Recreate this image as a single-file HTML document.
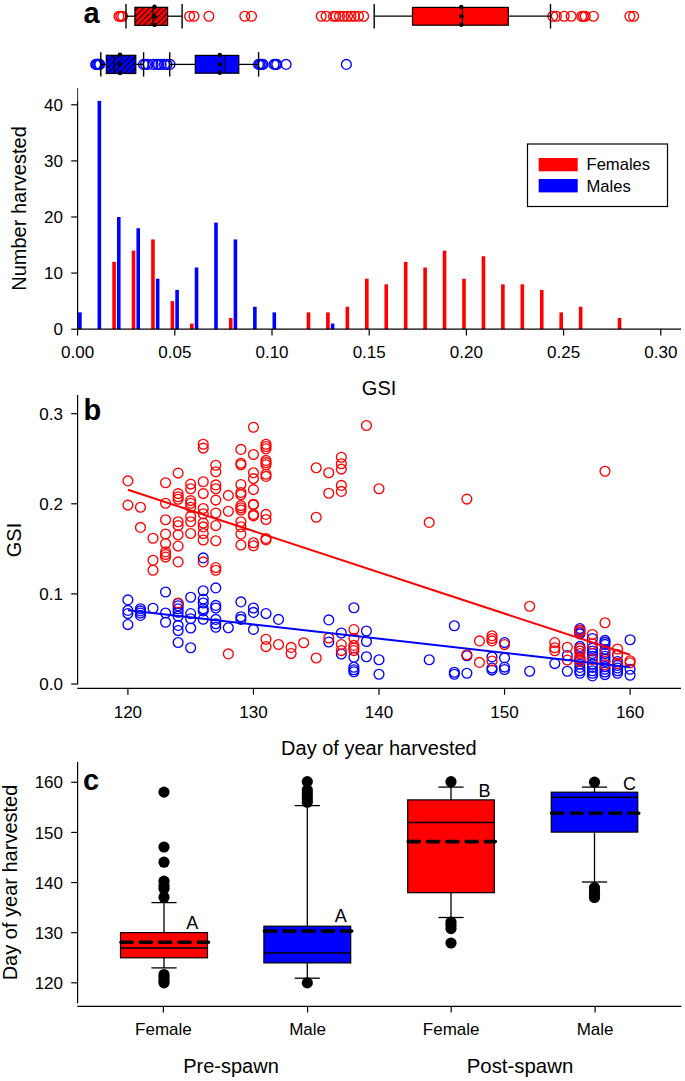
<!DOCTYPE html>
<html><head><meta charset="utf-8"><title>Figure</title>
<style>
html,body{margin:0;padding:0;background:#fff;}
body{width:685px;height:1081px;overflow:hidden;}
svg{display:block;}
text{font-family:"Liberation Sans", sans-serif;fill:#000;}
</style></head>
<body>
<svg width="685" height="1081" viewBox="0 0 685 1081">
<rect width="685" height="1081" fill="#fff"/>
<rect x="112.28" y="261.88" width="3.6" height="67.32" fill="#ff0000"/>
<rect x="131.72" y="250.66" width="3.6" height="78.54" fill="#ff0000"/>
<rect x="151.16" y="239.44" width="3.6" height="89.76" fill="#ff0000"/>
<rect x="170.60" y="301.15" width="3.6" height="28.05" fill="#ff0000"/>
<rect x="190.04" y="323.59" width="3.6" height="5.61" fill="#ff0000"/>
<rect x="228.92" y="317.98" width="3.6" height="11.22" fill="#ff0000"/>
<rect x="306.68" y="312.37" width="3.6" height="16.83" fill="#ff0000"/>
<rect x="326.12" y="312.37" width="3.6" height="16.83" fill="#ff0000"/>
<rect x="345.56" y="306.76" width="3.6" height="22.44" fill="#ff0000"/>
<rect x="365.00" y="278.71" width="3.6" height="50.49" fill="#ff0000"/>
<rect x="384.44" y="284.32" width="3.6" height="44.88" fill="#ff0000"/>
<rect x="403.88" y="261.88" width="3.6" height="67.32" fill="#ff0000"/>
<rect x="423.32" y="267.49" width="3.6" height="61.71" fill="#ff0000"/>
<rect x="442.76" y="250.66" width="3.6" height="78.54" fill="#ff0000"/>
<rect x="462.20" y="278.71" width="3.6" height="50.49" fill="#ff0000"/>
<rect x="481.64" y="256.27" width="3.6" height="72.93" fill="#ff0000"/>
<rect x="501.08" y="284.32" width="3.6" height="44.88" fill="#ff0000"/>
<rect x="520.52" y="284.32" width="3.6" height="44.88" fill="#ff0000"/>
<rect x="539.96" y="289.93" width="3.6" height="39.27" fill="#ff0000"/>
<rect x="559.40" y="312.37" width="3.6" height="16.83" fill="#ff0000"/>
<rect x="578.84" y="306.76" width="3.6" height="22.44" fill="#ff0000"/>
<rect x="617.72" y="317.98" width="3.6" height="11.22" fill="#ff0000"/>
<rect x="78.10" y="312.37" width="3.6" height="16.83" fill="#0000ff"/>
<rect x="97.54" y="100.87" width="3.6" height="228.33" fill="#0000ff"/>
<rect x="116.98" y="217.00" width="3.6" height="112.20" fill="#0000ff"/>
<rect x="136.42" y="228.22" width="3.6" height="100.98" fill="#0000ff"/>
<rect x="155.86" y="278.71" width="3.6" height="50.49" fill="#0000ff"/>
<rect x="175.30" y="289.93" width="3.6" height="39.27" fill="#0000ff"/>
<rect x="194.74" y="267.49" width="3.6" height="61.71" fill="#0000ff"/>
<rect x="214.18" y="222.61" width="3.6" height="106.59" fill="#0000ff"/>
<rect x="233.62" y="239.44" width="3.6" height="89.76" fill="#0000ff"/>
<rect x="253.06" y="306.76" width="3.6" height="22.44" fill="#0000ff"/>
<rect x="272.50" y="312.37" width="3.6" height="16.83" fill="#0000ff"/>
<rect x="330.82" y="323.59" width="3.6" height="5.61" fill="#0000ff"/>
<line x1="77.60" y1="88.00" x2="77.60" y2="101.00" stroke="#000" stroke-width="0.8" />
<line x1="77.60" y1="101.00" x2="77.60" y2="329.70" stroke="#000" stroke-width="1.2" />
<line x1="77.10" y1="329.20" x2="681.00" y2="329.20" stroke="#000" stroke-width="1.2" />
<line x1="77.60" y1="329.20" x2="77.60" y2="335.40" stroke="#000" stroke-width="1.2" />
<text x="77.60" y="358.30" font-size="17" text-anchor="middle" font-weight="normal" >0.00</text>
<line x1="174.80" y1="329.20" x2="174.80" y2="335.40" stroke="#000" stroke-width="1.2" />
<text x="174.80" y="358.30" font-size="17" text-anchor="middle" font-weight="normal" >0.05</text>
<line x1="272.00" y1="329.20" x2="272.00" y2="335.40" stroke="#000" stroke-width="1.2" />
<text x="272.00" y="358.30" font-size="17" text-anchor="middle" font-weight="normal" >0.10</text>
<line x1="369.20" y1="329.20" x2="369.20" y2="335.40" stroke="#000" stroke-width="1.2" />
<text x="369.20" y="358.30" font-size="17" text-anchor="middle" font-weight="normal" >0.15</text>
<line x1="466.40" y1="329.20" x2="466.40" y2="335.40" stroke="#000" stroke-width="1.2" />
<text x="466.40" y="358.30" font-size="17" text-anchor="middle" font-weight="normal" >0.20</text>
<line x1="563.60" y1="329.20" x2="563.60" y2="335.40" stroke="#000" stroke-width="1.2" />
<text x="563.60" y="358.30" font-size="17" text-anchor="middle" font-weight="normal" >0.25</text>
<line x1="660.80" y1="329.20" x2="660.80" y2="335.40" stroke="#000" stroke-width="1.2" />
<text x="660.80" y="358.30" font-size="17" text-anchor="middle" font-weight="normal" >0.30</text>
<line x1="71.20" y1="329.20" x2="77.60" y2="329.20" stroke="#000" stroke-width="1.2" />
<text x="63.00" y="335.30" font-size="17" text-anchor="end" font-weight="normal" >0</text>
<line x1="71.20" y1="273.10" x2="77.60" y2="273.10" stroke="#000" stroke-width="1.2" />
<text x="63.00" y="279.20" font-size="17" text-anchor="end" font-weight="normal" >10</text>
<line x1="71.20" y1="217.00" x2="77.60" y2="217.00" stroke="#000" stroke-width="1.2" />
<text x="63.00" y="223.10" font-size="17" text-anchor="end" font-weight="normal" >20</text>
<line x1="71.20" y1="160.90" x2="77.60" y2="160.90" stroke="#000" stroke-width="1.2" />
<text x="63.00" y="167.00" font-size="17" text-anchor="end" font-weight="normal" >30</text>
<line x1="71.20" y1="104.80" x2="77.60" y2="104.80" stroke="#000" stroke-width="1.2" />
<text x="63.00" y="110.90" font-size="17" text-anchor="end" font-weight="normal" >40</text>
<text x="379.10" y="394.70" font-size="20" text-anchor="middle" font-weight="normal" >GSI</text>
<text transform="translate(26.2,208.5) rotate(-90)" x="0" y="0" font-size="20" text-anchor="middle">Number harvested</text>
<rect x="527.5" y="144" width="140" height="62.5" fill="#fff" stroke="#000" stroke-width="1.2"/>
<rect x="538.7" y="158" width="39" height="13.3" fill="#ff0000"/>
<rect x="538.7" y="179" width="39" height="13.4" fill="#0000ff"/>
<text x="586.50" y="170.30" font-size="16.6" text-anchor="start" font-weight="normal" >Females</text>
<text x="586.50" y="192.30" font-size="16.6" text-anchor="start" font-weight="normal" >Males</text>
<text x="83.40" y="23.40" font-size="29" text-anchor="start" font-weight="bold" >a</text>
<defs><pattern id="hR" patternUnits="userSpaceOnUse" width="4.1" height="4.1" patternTransform="rotate(45)"><rect width="4.1" height="4.1" fill="#ff0000"/><rect x="0" y="0" width="1.0" height="4.1" fill="#000"/></pattern><pattern id="hB" patternUnits="userSpaceOnUse" width="4.1" height="4.1" patternTransform="rotate(45)"><rect width="4.1" height="4.1" fill="#0000ff"/><rect x="0" y="0" width="1.0" height="4.1" fill="#000"/></pattern></defs>
<circle cx="119.00" cy="16.20" r="4.9" fill="none" stroke="#ff0000" stroke-width="1.35"/>
<circle cx="120.80" cy="16.20" r="4.9" fill="none" stroke="#ff0000" stroke-width="1.35"/>
<circle cx="122.60" cy="16.20" r="4.9" fill="none" stroke="#ff0000" stroke-width="1.35"/>
<circle cx="189.60" cy="16.20" r="4.9" fill="none" stroke="#ff0000" stroke-width="1.35"/>
<circle cx="194.00" cy="16.20" r="4.9" fill="none" stroke="#ff0000" stroke-width="1.35"/>
<circle cx="208.90" cy="16.20" r="4.9" fill="none" stroke="#ff0000" stroke-width="1.35"/>
<circle cx="244.80" cy="16.20" r="4.9" fill="none" stroke="#ff0000" stroke-width="1.35"/>
<circle cx="251.50" cy="16.20" r="4.9" fill="none" stroke="#ff0000" stroke-width="1.35"/>
<circle cx="321.20" cy="16.20" r="4.9" fill="none" stroke="#ff0000" stroke-width="1.35"/>
<circle cx="326.10" cy="16.20" r="4.9" fill="none" stroke="#ff0000" stroke-width="1.35"/>
<circle cx="333.50" cy="16.20" r="4.9" fill="none" stroke="#ff0000" stroke-width="1.35"/>
<circle cx="336.00" cy="16.20" r="4.9" fill="none" stroke="#ff0000" stroke-width="1.35"/>
<circle cx="339.50" cy="16.20" r="4.9" fill="none" stroke="#ff0000" stroke-width="1.35"/>
<circle cx="343.50" cy="16.20" r="4.9" fill="none" stroke="#ff0000" stroke-width="1.35"/>
<circle cx="347.50" cy="16.20" r="4.9" fill="none" stroke="#ff0000" stroke-width="1.35"/>
<circle cx="351.00" cy="16.20" r="4.9" fill="none" stroke="#ff0000" stroke-width="1.35"/>
<circle cx="354.50" cy="16.20" r="4.9" fill="none" stroke="#ff0000" stroke-width="1.35"/>
<circle cx="358.50" cy="16.20" r="4.9" fill="none" stroke="#ff0000" stroke-width="1.35"/>
<circle cx="363.60" cy="16.20" r="4.9" fill="none" stroke="#ff0000" stroke-width="1.35"/>
<circle cx="552.80" cy="16.20" r="4.9" fill="none" stroke="#ff0000" stroke-width="1.35"/>
<circle cx="556.30" cy="16.20" r="4.9" fill="none" stroke="#ff0000" stroke-width="1.35"/>
<circle cx="564.20" cy="16.20" r="4.9" fill="none" stroke="#ff0000" stroke-width="1.35"/>
<circle cx="571.20" cy="16.20" r="4.9" fill="none" stroke="#ff0000" stroke-width="1.35"/>
<circle cx="581.70" cy="16.20" r="4.9" fill="none" stroke="#ff0000" stroke-width="1.35"/>
<circle cx="583.40" cy="16.20" r="4.9" fill="none" stroke="#ff0000" stroke-width="1.35"/>
<circle cx="585.20" cy="16.20" r="4.9" fill="none" stroke="#ff0000" stroke-width="1.35"/>
<circle cx="593.40" cy="16.20" r="4.9" fill="none" stroke="#ff0000" stroke-width="1.35"/>
<circle cx="629.90" cy="16.20" r="4.9" fill="none" stroke="#ff0000" stroke-width="1.35"/>
<circle cx="633.60" cy="16.20" r="4.9" fill="none" stroke="#ff0000" stroke-width="1.35"/>
<line x1="126.00" y1="16.20" x2="134.90" y2="16.20" stroke="#000" stroke-width="1.3" />
<line x1="167.60" y1="16.20" x2="182.10" y2="16.20" stroke="#000" stroke-width="1.3" />
<line x1="126.00" y1="3.90" x2="126.00" y2="28.50" stroke="#000" stroke-width="1.4" />
<line x1="182.10" y1="3.90" x2="182.10" y2="28.50" stroke="#000" stroke-width="1.4" />
<rect x="134.90" y="7.30" width="32.70" height="18.10" fill="url(#hR)" stroke="#000" stroke-width="1.2"/>
<line x1="152.90" y1="7.30" x2="152.90" y2="25.40" stroke="#000" stroke-width="1.2" />
<circle cx="154.50" cy="6.80" r="2.2" fill="#000"/>
<circle cx="154.50" cy="16.20" r="2.2" fill="#000"/>
<circle cx="154.50" cy="24.90" r="2.2" fill="#000"/>
<line x1="374.20" y1="16.20" x2="412.50" y2="16.20" stroke="#000" stroke-width="1.3" />
<line x1="508.30" y1="16.20" x2="550.50" y2="16.20" stroke="#000" stroke-width="1.3" />
<line x1="374.20" y1="3.90" x2="374.20" y2="28.50" stroke="#000" stroke-width="1.4" />
<line x1="550.50" y1="3.90" x2="550.50" y2="28.50" stroke="#000" stroke-width="1.4" />
<rect x="412.50" y="7.40" width="95.80" height="17.80" fill="#ff0000" stroke="#000" stroke-width="1.2"/>
<line x1="462.50" y1="7.40" x2="462.50" y2="25.20" stroke="#000" stroke-width="1.2" />
<circle cx="461.30" cy="6.90" r="2.2" fill="#000"/>
<circle cx="461.30" cy="16.20" r="2.2" fill="#000"/>
<circle cx="461.30" cy="24.70" r="2.2" fill="#000"/>
<circle cx="95.70" cy="64.40" r="4.9" fill="none" stroke="#0000ff" stroke-width="1.35"/>
<circle cx="96.70" cy="64.40" r="4.9" fill="none" stroke="#0000ff" stroke-width="1.35"/>
<circle cx="97.70" cy="64.40" r="4.9" fill="none" stroke="#0000ff" stroke-width="1.35"/>
<circle cx="98.80" cy="64.40" r="4.9" fill="none" stroke="#0000ff" stroke-width="1.35"/>
<circle cx="99.80" cy="64.40" r="4.9" fill="none" stroke="#0000ff" stroke-width="1.35"/>
<circle cx="143.50" cy="64.40" r="4.9" fill="none" stroke="#0000ff" stroke-width="1.35"/>
<circle cx="145.50" cy="64.40" r="4.9" fill="none" stroke="#0000ff" stroke-width="1.35"/>
<circle cx="148.00" cy="64.40" r="4.9" fill="none" stroke="#0000ff" stroke-width="1.35"/>
<circle cx="153.00" cy="64.40" r="4.9" fill="none" stroke="#0000ff" stroke-width="1.35"/>
<circle cx="156.50" cy="64.40" r="4.9" fill="none" stroke="#0000ff" stroke-width="1.35"/>
<circle cx="158.50" cy="64.40" r="4.9" fill="none" stroke="#0000ff" stroke-width="1.35"/>
<circle cx="161.00" cy="64.40" r="4.9" fill="none" stroke="#0000ff" stroke-width="1.35"/>
<circle cx="164.50" cy="64.40" r="4.9" fill="none" stroke="#0000ff" stroke-width="1.35"/>
<circle cx="167.00" cy="64.40" r="4.9" fill="none" stroke="#0000ff" stroke-width="1.35"/>
<circle cx="170.00" cy="64.40" r="4.9" fill="none" stroke="#0000ff" stroke-width="1.35"/>
<circle cx="258.50" cy="64.40" r="4.9" fill="none" stroke="#0000ff" stroke-width="1.35"/>
<circle cx="260.00" cy="64.40" r="4.9" fill="none" stroke="#0000ff" stroke-width="1.35"/>
<circle cx="261.50" cy="64.40" r="4.9" fill="none" stroke="#0000ff" stroke-width="1.35"/>
<circle cx="263.00" cy="64.40" r="4.9" fill="none" stroke="#0000ff" stroke-width="1.35"/>
<circle cx="274.00" cy="64.40" r="4.9" fill="none" stroke="#0000ff" stroke-width="1.35"/>
<circle cx="275.50" cy="64.40" r="4.9" fill="none" stroke="#0000ff" stroke-width="1.35"/>
<circle cx="276.80" cy="64.40" r="4.9" fill="none" stroke="#0000ff" stroke-width="1.35"/>
<circle cx="286.10" cy="64.40" r="4.9" fill="none" stroke="#0000ff" stroke-width="1.35"/>
<circle cx="346.40" cy="64.40" r="4.9" fill="none" stroke="#0000ff" stroke-width="1.35"/>
<line x1="100.80" y1="64.40" x2="106.30" y2="64.40" stroke="#000" stroke-width="1.3" />
<line x1="135.80" y1="64.40" x2="143.60" y2="64.40" stroke="#000" stroke-width="1.3" />
<line x1="100.80" y1="52.20" x2="100.80" y2="76.60" stroke="#000" stroke-width="1.4" />
<line x1="143.60" y1="52.20" x2="143.60" y2="76.60" stroke="#000" stroke-width="1.4" />
<rect x="106.30" y="55.30" width="29.50" height="18.20" fill="url(#hB)" stroke="#000" stroke-width="1.2"/>
<line x1="114.10" y1="55.30" x2="114.10" y2="73.50" stroke="#000" stroke-width="1.2" />
<circle cx="120.00" cy="54.80" r="2.2" fill="#000"/>
<circle cx="120.00" cy="64.40" r="2.2" fill="#000"/>
<circle cx="120.00" cy="73.00" r="2.2" fill="#000"/>
<line x1="169.70" y1="64.40" x2="195.30" y2="64.40" stroke="#000" stroke-width="1.3" />
<line x1="238.80" y1="64.40" x2="258.60" y2="64.40" stroke="#000" stroke-width="1.3" />
<line x1="169.70" y1="52.20" x2="169.70" y2="76.60" stroke="#000" stroke-width="1.4" />
<line x1="258.60" y1="52.20" x2="258.60" y2="76.60" stroke="#000" stroke-width="1.4" />
<rect x="195.30" y="55.40" width="43.50" height="17.80" fill="#0000ff" stroke="#000" stroke-width="1.2"/>
<line x1="224.50" y1="55.40" x2="224.50" y2="73.20" stroke="#000" stroke-width="1.2" />
<circle cx="219.80" cy="54.90" r="2.2" fill="#000"/>
<circle cx="219.80" cy="64.40" r="2.2" fill="#000"/>
<circle cx="219.80" cy="72.70" r="2.2" fill="#000"/>
<line x1="77.60" y1="395.00" x2="77.60" y2="684.50" stroke="#000" stroke-width="1.2" />
<line x1="71.20" y1="684.00" x2="77.60" y2="684.00" stroke="#000" stroke-width="1.2" />
<text x="63.00" y="690.10" font-size="17" text-anchor="end" font-weight="normal" >0.0</text>
<line x1="71.20" y1="593.90" x2="77.60" y2="593.90" stroke="#000" stroke-width="1.2" />
<text x="63.00" y="600.00" font-size="17" text-anchor="end" font-weight="normal" >0.1</text>
<line x1="71.20" y1="503.80" x2="77.60" y2="503.80" stroke="#000" stroke-width="1.2" />
<text x="63.00" y="509.90" font-size="17" text-anchor="end" font-weight="normal" >0.2</text>
<line x1="71.20" y1="413.70" x2="77.60" y2="413.70" stroke="#000" stroke-width="1.2" />
<text x="63.00" y="419.80" font-size="17" text-anchor="end" font-weight="normal" >0.3</text>
<line x1="77.30" y1="688.30" x2="681.00" y2="688.30" stroke="#000" stroke-width="1.2" />
<line x1="127.90" y1="688.30" x2="127.90" y2="694.70" stroke="#000" stroke-width="1.2" />
<text x="127.90" y="717.90" font-size="17" text-anchor="middle" font-weight="normal" >120</text>
<line x1="253.45" y1="688.30" x2="253.45" y2="694.70" stroke="#000" stroke-width="1.2" />
<text x="253.45" y="717.90" font-size="17" text-anchor="middle" font-weight="normal" >130</text>
<line x1="379.00" y1="688.30" x2="379.00" y2="694.70" stroke="#000" stroke-width="1.2" />
<text x="379.00" y="717.90" font-size="17" text-anchor="middle" font-weight="normal" >140</text>
<line x1="504.55" y1="688.30" x2="504.55" y2="694.70" stroke="#000" stroke-width="1.2" />
<text x="504.55" y="717.90" font-size="17" text-anchor="middle" font-weight="normal" >150</text>
<line x1="630.10" y1="688.30" x2="630.10" y2="694.70" stroke="#000" stroke-width="1.2" />
<text x="630.10" y="717.90" font-size="17" text-anchor="middle" font-weight="normal" >160</text>
<text x="378.90" y="754.70" font-size="20" text-anchor="middle" font-weight="normal" >Day of year harvested</text>
<text transform="translate(21.4,540) rotate(-90)" x="0" y="0" font-size="20" text-anchor="middle">GSI</text>
<text x="83.50" y="420.40" font-size="29" text-anchor="start" font-weight="bold" >b</text>
<circle cx="127.90" cy="599.90" r="4.9" fill="none" stroke="#0000ff" stroke-width="1.35"/>
<circle cx="127.90" cy="610.40" r="4.9" fill="none" stroke="#0000ff" stroke-width="1.35"/>
<circle cx="127.90" cy="613.60" r="4.9" fill="none" stroke="#0000ff" stroke-width="1.35"/>
<circle cx="127.90" cy="624.60" r="4.9" fill="none" stroke="#0000ff" stroke-width="1.35"/>
<circle cx="140.46" cy="608.80" r="4.9" fill="none" stroke="#0000ff" stroke-width="1.35"/>
<circle cx="140.46" cy="610.90" r="4.9" fill="none" stroke="#0000ff" stroke-width="1.35"/>
<circle cx="140.46" cy="613.00" r="4.9" fill="none" stroke="#0000ff" stroke-width="1.35"/>
<circle cx="140.46" cy="615.40" r="4.9" fill="none" stroke="#0000ff" stroke-width="1.35"/>
<circle cx="153.01" cy="608.30" r="4.9" fill="none" stroke="#0000ff" stroke-width="1.35"/>
<circle cx="165.56" cy="592.00" r="4.9" fill="none" stroke="#0000ff" stroke-width="1.35"/>
<circle cx="165.56" cy="613.00" r="4.9" fill="none" stroke="#0000ff" stroke-width="1.35"/>
<circle cx="165.56" cy="622.20" r="4.9" fill="none" stroke="#0000ff" stroke-width="1.35"/>
<circle cx="178.12" cy="603.60" r="4.9" fill="none" stroke="#0000ff" stroke-width="1.35"/>
<circle cx="178.12" cy="605.70" r="4.9" fill="none" stroke="#0000ff" stroke-width="1.35"/>
<circle cx="178.12" cy="608.80" r="4.9" fill="none" stroke="#0000ff" stroke-width="1.35"/>
<circle cx="178.12" cy="612.30" r="4.9" fill="none" stroke="#0000ff" stroke-width="1.35"/>
<circle cx="178.12" cy="616.20" r="4.9" fill="none" stroke="#0000ff" stroke-width="1.35"/>
<circle cx="178.12" cy="625.40" r="4.9" fill="none" stroke="#0000ff" stroke-width="1.35"/>
<circle cx="178.12" cy="630.60" r="4.9" fill="none" stroke="#0000ff" stroke-width="1.35"/>
<circle cx="178.12" cy="642.50" r="4.9" fill="none" stroke="#0000ff" stroke-width="1.35"/>
<circle cx="190.68" cy="597.30" r="4.9" fill="none" stroke="#0000ff" stroke-width="1.35"/>
<circle cx="190.68" cy="613.60" r="4.9" fill="none" stroke="#0000ff" stroke-width="1.35"/>
<circle cx="190.68" cy="618.80" r="4.9" fill="none" stroke="#0000ff" stroke-width="1.35"/>
<circle cx="190.68" cy="628.00" r="4.9" fill="none" stroke="#0000ff" stroke-width="1.35"/>
<circle cx="190.68" cy="647.70" r="4.9" fill="none" stroke="#0000ff" stroke-width="1.35"/>
<circle cx="203.23" cy="557.90" r="4.9" fill="none" stroke="#0000ff" stroke-width="1.35"/>
<circle cx="203.23" cy="590.70" r="4.9" fill="none" stroke="#0000ff" stroke-width="1.35"/>
<circle cx="203.23" cy="599.10" r="4.9" fill="none" stroke="#0000ff" stroke-width="1.35"/>
<circle cx="203.23" cy="603.00" r="4.9" fill="none" stroke="#0000ff" stroke-width="1.35"/>
<circle cx="203.23" cy="608.80" r="4.9" fill="none" stroke="#0000ff" stroke-width="1.35"/>
<circle cx="203.23" cy="610.90" r="4.9" fill="none" stroke="#0000ff" stroke-width="1.35"/>
<circle cx="203.23" cy="619.30" r="4.9" fill="none" stroke="#0000ff" stroke-width="1.35"/>
<circle cx="215.78" cy="587.90" r="4.9" fill="none" stroke="#0000ff" stroke-width="1.35"/>
<circle cx="215.78" cy="605.40" r="4.9" fill="none" stroke="#0000ff" stroke-width="1.35"/>
<circle cx="215.78" cy="608.00" r="4.9" fill="none" stroke="#0000ff" stroke-width="1.35"/>
<circle cx="215.78" cy="619.40" r="4.9" fill="none" stroke="#0000ff" stroke-width="1.35"/>
<circle cx="215.78" cy="623.80" r="4.9" fill="none" stroke="#0000ff" stroke-width="1.35"/>
<circle cx="215.78" cy="627.30" r="4.9" fill="none" stroke="#0000ff" stroke-width="1.35"/>
<circle cx="228.34" cy="627.70" r="4.9" fill="none" stroke="#0000ff" stroke-width="1.35"/>
<circle cx="240.90" cy="601.90" r="4.9" fill="none" stroke="#0000ff" stroke-width="1.35"/>
<circle cx="240.90" cy="616.80" r="4.9" fill="none" stroke="#0000ff" stroke-width="1.35"/>
<circle cx="240.90" cy="619.40" r="4.9" fill="none" stroke="#0000ff" stroke-width="1.35"/>
<circle cx="253.45" cy="608.00" r="4.9" fill="none" stroke="#0000ff" stroke-width="1.35"/>
<circle cx="253.45" cy="612.40" r="4.9" fill="none" stroke="#0000ff" stroke-width="1.35"/>
<circle cx="253.45" cy="629.40" r="4.9" fill="none" stroke="#0000ff" stroke-width="1.35"/>
<circle cx="266.00" cy="613.60" r="4.9" fill="none" stroke="#0000ff" stroke-width="1.35"/>
<circle cx="278.56" cy="619.40" r="4.9" fill="none" stroke="#0000ff" stroke-width="1.35"/>
<circle cx="328.78" cy="619.90" r="4.9" fill="none" stroke="#0000ff" stroke-width="1.35"/>
<circle cx="328.78" cy="642.00" r="4.9" fill="none" stroke="#0000ff" stroke-width="1.35"/>
<circle cx="341.34" cy="633.00" r="4.9" fill="none" stroke="#0000ff" stroke-width="1.35"/>
<circle cx="341.34" cy="654.00" r="4.9" fill="none" stroke="#0000ff" stroke-width="1.35"/>
<circle cx="353.89" cy="607.80" r="4.9" fill="none" stroke="#0000ff" stroke-width="1.35"/>
<circle cx="353.89" cy="657.20" r="4.9" fill="none" stroke="#0000ff" stroke-width="1.35"/>
<circle cx="353.89" cy="667.20" r="4.9" fill="none" stroke="#0000ff" stroke-width="1.35"/>
<circle cx="353.89" cy="669.80" r="4.9" fill="none" stroke="#0000ff" stroke-width="1.35"/>
<circle cx="353.89" cy="671.70" r="4.9" fill="none" stroke="#0000ff" stroke-width="1.35"/>
<circle cx="366.44" cy="631.00" r="4.9" fill="none" stroke="#0000ff" stroke-width="1.35"/>
<circle cx="366.44" cy="641.50" r="4.9" fill="none" stroke="#0000ff" stroke-width="1.35"/>
<circle cx="366.44" cy="656.70" r="4.9" fill="none" stroke="#0000ff" stroke-width="1.35"/>
<circle cx="379.00" cy="659.80" r="4.9" fill="none" stroke="#0000ff" stroke-width="1.35"/>
<circle cx="379.00" cy="674.30" r="4.9" fill="none" stroke="#0000ff" stroke-width="1.35"/>
<circle cx="429.22" cy="659.80" r="4.9" fill="none" stroke="#0000ff" stroke-width="1.35"/>
<circle cx="454.33" cy="625.70" r="4.9" fill="none" stroke="#0000ff" stroke-width="1.35"/>
<circle cx="454.33" cy="672.20" r="4.9" fill="none" stroke="#0000ff" stroke-width="1.35"/>
<circle cx="454.33" cy="674.20" r="4.9" fill="none" stroke="#0000ff" stroke-width="1.35"/>
<circle cx="466.88" cy="655.80" r="4.9" fill="none" stroke="#0000ff" stroke-width="1.35"/>
<circle cx="466.88" cy="673.20" r="4.9" fill="none" stroke="#0000ff" stroke-width="1.35"/>
<circle cx="492.00" cy="656.90" r="4.9" fill="none" stroke="#0000ff" stroke-width="1.35"/>
<circle cx="492.00" cy="668.10" r="4.9" fill="none" stroke="#0000ff" stroke-width="1.35"/>
<circle cx="492.00" cy="670.10" r="4.9" fill="none" stroke="#0000ff" stroke-width="1.35"/>
<circle cx="504.55" cy="642.60" r="4.9" fill="none" stroke="#0000ff" stroke-width="1.35"/>
<circle cx="504.55" cy="657.90" r="4.9" fill="none" stroke="#0000ff" stroke-width="1.35"/>
<circle cx="504.55" cy="667.10" r="4.9" fill="none" stroke="#0000ff" stroke-width="1.35"/>
<circle cx="504.55" cy="669.50" r="4.9" fill="none" stroke="#0000ff" stroke-width="1.35"/>
<circle cx="529.66" cy="671.20" r="4.9" fill="none" stroke="#0000ff" stroke-width="1.35"/>
<circle cx="554.77" cy="663.60" r="4.9" fill="none" stroke="#0000ff" stroke-width="1.35"/>
<circle cx="567.33" cy="655.50" r="4.9" fill="none" stroke="#0000ff" stroke-width="1.35"/>
<circle cx="567.33" cy="671.30" r="4.9" fill="none" stroke="#0000ff" stroke-width="1.35"/>
<circle cx="579.88" cy="628.60" r="4.9" fill="none" stroke="#0000ff" stroke-width="1.35"/>
<circle cx="579.88" cy="630.60" r="4.9" fill="none" stroke="#0000ff" stroke-width="1.35"/>
<circle cx="579.88" cy="632.60" r="4.9" fill="none" stroke="#0000ff" stroke-width="1.35"/>
<circle cx="579.88" cy="633.90" r="4.9" fill="none" stroke="#0000ff" stroke-width="1.35"/>
<circle cx="579.88" cy="646.40" r="4.9" fill="none" stroke="#0000ff" stroke-width="1.35"/>
<circle cx="579.88" cy="648.30" r="4.9" fill="none" stroke="#0000ff" stroke-width="1.35"/>
<circle cx="579.88" cy="651.00" r="4.9" fill="none" stroke="#0000ff" stroke-width="1.35"/>
<circle cx="579.88" cy="657.50" r="4.9" fill="none" stroke="#0000ff" stroke-width="1.35"/>
<circle cx="579.88" cy="660.10" r="4.9" fill="none" stroke="#0000ff" stroke-width="1.35"/>
<circle cx="579.88" cy="664.10" r="4.9" fill="none" stroke="#0000ff" stroke-width="1.35"/>
<circle cx="579.88" cy="667.40" r="4.9" fill="none" stroke="#0000ff" stroke-width="1.35"/>
<circle cx="579.88" cy="670.70" r="4.9" fill="none" stroke="#0000ff" stroke-width="1.35"/>
<circle cx="579.88" cy="673.30" r="4.9" fill="none" stroke="#0000ff" stroke-width="1.35"/>
<circle cx="592.43" cy="638.50" r="4.9" fill="none" stroke="#0000ff" stroke-width="1.35"/>
<circle cx="592.43" cy="648.30" r="4.9" fill="none" stroke="#0000ff" stroke-width="1.35"/>
<circle cx="592.43" cy="651.00" r="4.9" fill="none" stroke="#0000ff" stroke-width="1.35"/>
<circle cx="592.43" cy="653.60" r="4.9" fill="none" stroke="#0000ff" stroke-width="1.35"/>
<circle cx="592.43" cy="656.20" r="4.9" fill="none" stroke="#0000ff" stroke-width="1.35"/>
<circle cx="592.43" cy="658.80" r="4.9" fill="none" stroke="#0000ff" stroke-width="1.35"/>
<circle cx="592.43" cy="664.10" r="4.9" fill="none" stroke="#0000ff" stroke-width="1.35"/>
<circle cx="592.43" cy="667.40" r="4.9" fill="none" stroke="#0000ff" stroke-width="1.35"/>
<circle cx="592.43" cy="670.70" r="4.9" fill="none" stroke="#0000ff" stroke-width="1.35"/>
<circle cx="592.43" cy="673.30" r="4.9" fill="none" stroke="#0000ff" stroke-width="1.35"/>
<circle cx="592.43" cy="675.90" r="4.9" fill="none" stroke="#0000ff" stroke-width="1.35"/>
<circle cx="604.99" cy="640.40" r="4.9" fill="none" stroke="#0000ff" stroke-width="1.35"/>
<circle cx="604.99" cy="642.40" r="4.9" fill="none" stroke="#0000ff" stroke-width="1.35"/>
<circle cx="604.99" cy="644.40" r="4.9" fill="none" stroke="#0000ff" stroke-width="1.35"/>
<circle cx="604.99" cy="649.60" r="4.9" fill="none" stroke="#0000ff" stroke-width="1.35"/>
<circle cx="604.99" cy="653.60" r="4.9" fill="none" stroke="#0000ff" stroke-width="1.35"/>
<circle cx="604.99" cy="656.20" r="4.9" fill="none" stroke="#0000ff" stroke-width="1.35"/>
<circle cx="604.99" cy="658.80" r="4.9" fill="none" stroke="#0000ff" stroke-width="1.35"/>
<circle cx="604.99" cy="661.50" r="4.9" fill="none" stroke="#0000ff" stroke-width="1.35"/>
<circle cx="604.99" cy="666.70" r="4.9" fill="none" stroke="#0000ff" stroke-width="1.35"/>
<circle cx="604.99" cy="669.30" r="4.9" fill="none" stroke="#0000ff" stroke-width="1.35"/>
<circle cx="604.99" cy="672.00" r="4.9" fill="none" stroke="#0000ff" stroke-width="1.35"/>
<circle cx="604.99" cy="674.60" r="4.9" fill="none" stroke="#0000ff" stroke-width="1.35"/>
<circle cx="617.54" cy="654.90" r="4.9" fill="none" stroke="#0000ff" stroke-width="1.35"/>
<circle cx="617.54" cy="661.50" r="4.9" fill="none" stroke="#0000ff" stroke-width="1.35"/>
<circle cx="617.54" cy="665.40" r="4.9" fill="none" stroke="#0000ff" stroke-width="1.35"/>
<circle cx="617.54" cy="668.00" r="4.9" fill="none" stroke="#0000ff" stroke-width="1.35"/>
<circle cx="617.54" cy="670.70" r="4.9" fill="none" stroke="#0000ff" stroke-width="1.35"/>
<circle cx="617.54" cy="673.30" r="4.9" fill="none" stroke="#0000ff" stroke-width="1.35"/>
<circle cx="630.10" cy="639.80" r="4.9" fill="none" stroke="#0000ff" stroke-width="1.35"/>
<circle cx="630.10" cy="669.30" r="4.9" fill="none" stroke="#0000ff" stroke-width="1.35"/>
<circle cx="630.10" cy="675.30" r="4.9" fill="none" stroke="#0000ff" stroke-width="1.35"/>
<circle cx="127.90" cy="480.90" r="4.9" fill="none" stroke="#ff0000" stroke-width="1.35"/>
<circle cx="127.90" cy="505.10" r="4.9" fill="none" stroke="#ff0000" stroke-width="1.35"/>
<circle cx="140.46" cy="507.20" r="4.9" fill="none" stroke="#ff0000" stroke-width="1.35"/>
<circle cx="140.46" cy="527.40" r="4.9" fill="none" stroke="#ff0000" stroke-width="1.35"/>
<circle cx="153.01" cy="538.20" r="4.9" fill="none" stroke="#ff0000" stroke-width="1.35"/>
<circle cx="153.01" cy="560.30" r="4.9" fill="none" stroke="#ff0000" stroke-width="1.35"/>
<circle cx="153.01" cy="570.30" r="4.9" fill="none" stroke="#ff0000" stroke-width="1.35"/>
<circle cx="165.56" cy="482.80" r="4.9" fill="none" stroke="#ff0000" stroke-width="1.35"/>
<circle cx="165.56" cy="503.30" r="4.9" fill="none" stroke="#ff0000" stroke-width="1.35"/>
<circle cx="165.56" cy="519.80" r="4.9" fill="none" stroke="#ff0000" stroke-width="1.35"/>
<circle cx="165.56" cy="534.00" r="4.9" fill="none" stroke="#ff0000" stroke-width="1.35"/>
<circle cx="165.56" cy="543.50" r="4.9" fill="none" stroke="#ff0000" stroke-width="1.35"/>
<circle cx="165.56" cy="551.90" r="4.9" fill="none" stroke="#ff0000" stroke-width="1.35"/>
<circle cx="165.56" cy="554.50" r="4.9" fill="none" stroke="#ff0000" stroke-width="1.35"/>
<circle cx="165.56" cy="557.10" r="4.9" fill="none" stroke="#ff0000" stroke-width="1.35"/>
<circle cx="178.12" cy="473.10" r="4.9" fill="none" stroke="#ff0000" stroke-width="1.35"/>
<circle cx="178.12" cy="493.60" r="4.9" fill="none" stroke="#ff0000" stroke-width="1.35"/>
<circle cx="178.12" cy="496.70" r="4.9" fill="none" stroke="#ff0000" stroke-width="1.35"/>
<circle cx="178.12" cy="499.30" r="4.9" fill="none" stroke="#ff0000" stroke-width="1.35"/>
<circle cx="178.12" cy="521.70" r="4.9" fill="none" stroke="#ff0000" stroke-width="1.35"/>
<circle cx="178.12" cy="525.60" r="4.9" fill="none" stroke="#ff0000" stroke-width="1.35"/>
<circle cx="178.12" cy="534.80" r="4.9" fill="none" stroke="#ff0000" stroke-width="1.35"/>
<circle cx="178.12" cy="546.10" r="4.9" fill="none" stroke="#ff0000" stroke-width="1.35"/>
<circle cx="178.12" cy="561.90" r="4.9" fill="none" stroke="#ff0000" stroke-width="1.35"/>
<circle cx="178.12" cy="603.00" r="4.9" fill="none" stroke="#ff0000" stroke-width="1.35"/>
<circle cx="190.68" cy="484.10" r="4.9" fill="none" stroke="#ff0000" stroke-width="1.35"/>
<circle cx="190.68" cy="488.80" r="4.9" fill="none" stroke="#ff0000" stroke-width="1.35"/>
<circle cx="190.68" cy="500.60" r="4.9" fill="none" stroke="#ff0000" stroke-width="1.35"/>
<circle cx="190.68" cy="503.30" r="4.9" fill="none" stroke="#ff0000" stroke-width="1.35"/>
<circle cx="190.68" cy="507.20" r="4.9" fill="none" stroke="#ff0000" stroke-width="1.35"/>
<circle cx="190.68" cy="516.40" r="4.9" fill="none" stroke="#ff0000" stroke-width="1.35"/>
<circle cx="190.68" cy="521.70" r="4.9" fill="none" stroke="#ff0000" stroke-width="1.35"/>
<circle cx="190.68" cy="533.50" r="4.9" fill="none" stroke="#ff0000" stroke-width="1.35"/>
<circle cx="203.23" cy="444.20" r="4.9" fill="none" stroke="#ff0000" stroke-width="1.35"/>
<circle cx="203.23" cy="448.10" r="4.9" fill="none" stroke="#ff0000" stroke-width="1.35"/>
<circle cx="203.23" cy="481.70" r="4.9" fill="none" stroke="#ff0000" stroke-width="1.35"/>
<circle cx="203.23" cy="493.60" r="4.9" fill="none" stroke="#ff0000" stroke-width="1.35"/>
<circle cx="203.23" cy="508.50" r="4.9" fill="none" stroke="#ff0000" stroke-width="1.35"/>
<circle cx="203.23" cy="513.80" r="4.9" fill="none" stroke="#ff0000" stroke-width="1.35"/>
<circle cx="203.23" cy="523.00" r="4.9" fill="none" stroke="#ff0000" stroke-width="1.35"/>
<circle cx="203.23" cy="526.90" r="4.9" fill="none" stroke="#ff0000" stroke-width="1.35"/>
<circle cx="203.23" cy="533.50" r="4.9" fill="none" stroke="#ff0000" stroke-width="1.35"/>
<circle cx="203.23" cy="540.00" r="4.9" fill="none" stroke="#ff0000" stroke-width="1.35"/>
<circle cx="203.23" cy="561.90" r="4.9" fill="none" stroke="#ff0000" stroke-width="1.35"/>
<circle cx="215.78" cy="465.20" r="4.9" fill="none" stroke="#ff0000" stroke-width="1.35"/>
<circle cx="215.78" cy="471.70" r="4.9" fill="none" stroke="#ff0000" stroke-width="1.35"/>
<circle cx="215.78" cy="484.90" r="4.9" fill="none" stroke="#ff0000" stroke-width="1.35"/>
<circle cx="215.78" cy="488.80" r="4.9" fill="none" stroke="#ff0000" stroke-width="1.35"/>
<circle cx="215.78" cy="500.10" r="4.9" fill="none" stroke="#ff0000" stroke-width="1.35"/>
<circle cx="215.78" cy="513.00" r="4.9" fill="none" stroke="#ff0000" stroke-width="1.35"/>
<circle cx="215.78" cy="525.60" r="4.9" fill="none" stroke="#ff0000" stroke-width="1.35"/>
<circle cx="215.78" cy="540.80" r="4.9" fill="none" stroke="#ff0000" stroke-width="1.35"/>
<circle cx="215.78" cy="567.60" r="4.9" fill="none" stroke="#ff0000" stroke-width="1.35"/>
<circle cx="215.78" cy="570.30" r="4.9" fill="none" stroke="#ff0000" stroke-width="1.35"/>
<circle cx="228.34" cy="495.40" r="4.9" fill="none" stroke="#ff0000" stroke-width="1.35"/>
<circle cx="228.34" cy="511.20" r="4.9" fill="none" stroke="#ff0000" stroke-width="1.35"/>
<circle cx="228.34" cy="653.90" r="4.9" fill="none" stroke="#ff0000" stroke-width="1.35"/>
<circle cx="240.90" cy="449.40" r="4.9" fill="none" stroke="#ff0000" stroke-width="1.35"/>
<circle cx="240.90" cy="463.30" r="4.9" fill="none" stroke="#ff0000" stroke-width="1.35"/>
<circle cx="240.90" cy="464.70" r="4.9" fill="none" stroke="#ff0000" stroke-width="1.35"/>
<circle cx="240.90" cy="484.50" r="4.9" fill="none" stroke="#ff0000" stroke-width="1.35"/>
<circle cx="240.90" cy="492.50" r="4.9" fill="none" stroke="#ff0000" stroke-width="1.35"/>
<circle cx="240.90" cy="494.70" r="4.9" fill="none" stroke="#ff0000" stroke-width="1.35"/>
<circle cx="240.90" cy="505.60" r="4.9" fill="none" stroke="#ff0000" stroke-width="1.35"/>
<circle cx="240.90" cy="507.80" r="4.9" fill="none" stroke="#ff0000" stroke-width="1.35"/>
<circle cx="240.90" cy="510.00" r="4.9" fill="none" stroke="#ff0000" stroke-width="1.35"/>
<circle cx="240.90" cy="521.70" r="4.9" fill="none" stroke="#ff0000" stroke-width="1.35"/>
<circle cx="240.90" cy="526.80" r="4.9" fill="none" stroke="#ff0000" stroke-width="1.35"/>
<circle cx="240.90" cy="534.10" r="4.9" fill="none" stroke="#ff0000" stroke-width="1.35"/>
<circle cx="240.90" cy="545.00" r="4.9" fill="none" stroke="#ff0000" stroke-width="1.35"/>
<circle cx="253.45" cy="427.20" r="4.9" fill="none" stroke="#ff0000" stroke-width="1.35"/>
<circle cx="253.45" cy="454.50" r="4.9" fill="none" stroke="#ff0000" stroke-width="1.35"/>
<circle cx="253.45" cy="472.80" r="4.9" fill="none" stroke="#ff0000" stroke-width="1.35"/>
<circle cx="253.45" cy="478.60" r="4.9" fill="none" stroke="#ff0000" stroke-width="1.35"/>
<circle cx="253.45" cy="489.60" r="4.9" fill="none" stroke="#ff0000" stroke-width="1.35"/>
<circle cx="253.45" cy="504.20" r="4.9" fill="none" stroke="#ff0000" stroke-width="1.35"/>
<circle cx="253.45" cy="504.90" r="4.9" fill="none" stroke="#ff0000" stroke-width="1.35"/>
<circle cx="253.45" cy="514.40" r="4.9" fill="none" stroke="#ff0000" stroke-width="1.35"/>
<circle cx="253.45" cy="515.80" r="4.9" fill="none" stroke="#ff0000" stroke-width="1.35"/>
<circle cx="253.45" cy="542.80" r="4.9" fill="none" stroke="#ff0000" stroke-width="1.35"/>
<circle cx="253.45" cy="545.80" r="4.9" fill="none" stroke="#ff0000" stroke-width="1.35"/>
<circle cx="266.00" cy="444.30" r="4.9" fill="none" stroke="#ff0000" stroke-width="1.35"/>
<circle cx="266.00" cy="446.50" r="4.9" fill="none" stroke="#ff0000" stroke-width="1.35"/>
<circle cx="266.00" cy="448.70" r="4.9" fill="none" stroke="#ff0000" stroke-width="1.35"/>
<circle cx="266.00" cy="460.40" r="4.9" fill="none" stroke="#ff0000" stroke-width="1.35"/>
<circle cx="266.00" cy="462.60" r="4.9" fill="none" stroke="#ff0000" stroke-width="1.35"/>
<circle cx="266.00" cy="464.70" r="4.9" fill="none" stroke="#ff0000" stroke-width="1.35"/>
<circle cx="266.00" cy="474.20" r="4.9" fill="none" stroke="#ff0000" stroke-width="1.35"/>
<circle cx="266.00" cy="476.40" r="4.9" fill="none" stroke="#ff0000" stroke-width="1.35"/>
<circle cx="266.00" cy="514.40" r="4.9" fill="none" stroke="#ff0000" stroke-width="1.35"/>
<circle cx="266.00" cy="519.50" r="4.9" fill="none" stroke="#ff0000" stroke-width="1.35"/>
<circle cx="266.00" cy="538.50" r="4.9" fill="none" stroke="#ff0000" stroke-width="1.35"/>
<circle cx="266.00" cy="539.90" r="4.9" fill="none" stroke="#ff0000" stroke-width="1.35"/>
<circle cx="266.00" cy="639.20" r="4.9" fill="none" stroke="#ff0000" stroke-width="1.35"/>
<circle cx="266.00" cy="646.60" r="4.9" fill="none" stroke="#ff0000" stroke-width="1.35"/>
<circle cx="278.56" cy="644.50" r="4.9" fill="none" stroke="#ff0000" stroke-width="1.35"/>
<circle cx="291.12" cy="647.40" r="4.9" fill="none" stroke="#ff0000" stroke-width="1.35"/>
<circle cx="291.12" cy="653.60" r="4.9" fill="none" stroke="#ff0000" stroke-width="1.35"/>
<circle cx="303.67" cy="642.70" r="4.9" fill="none" stroke="#ff0000" stroke-width="1.35"/>
<circle cx="316.23" cy="467.70" r="4.9" fill="none" stroke="#ff0000" stroke-width="1.35"/>
<circle cx="316.23" cy="517.30" r="4.9" fill="none" stroke="#ff0000" stroke-width="1.35"/>
<circle cx="316.23" cy="658.00" r="4.9" fill="none" stroke="#ff0000" stroke-width="1.35"/>
<circle cx="328.78" cy="472.80" r="4.9" fill="none" stroke="#ff0000" stroke-width="1.35"/>
<circle cx="328.78" cy="493.20" r="4.9" fill="none" stroke="#ff0000" stroke-width="1.35"/>
<circle cx="328.78" cy="638.00" r="4.9" fill="none" stroke="#ff0000" stroke-width="1.35"/>
<circle cx="341.34" cy="457.30" r="4.9" fill="none" stroke="#ff0000" stroke-width="1.35"/>
<circle cx="341.34" cy="463.80" r="4.9" fill="none" stroke="#ff0000" stroke-width="1.35"/>
<circle cx="341.34" cy="469.10" r="4.9" fill="none" stroke="#ff0000" stroke-width="1.35"/>
<circle cx="341.34" cy="485.40" r="4.9" fill="none" stroke="#ff0000" stroke-width="1.35"/>
<circle cx="341.34" cy="491.40" r="4.9" fill="none" stroke="#ff0000" stroke-width="1.35"/>
<circle cx="341.34" cy="644.60" r="4.9" fill="none" stroke="#ff0000" stroke-width="1.35"/>
<circle cx="341.34" cy="650.60" r="4.9" fill="none" stroke="#ff0000" stroke-width="1.35"/>
<circle cx="353.89" cy="629.60" r="4.9" fill="none" stroke="#ff0000" stroke-width="1.35"/>
<circle cx="353.89" cy="638.30" r="4.9" fill="none" stroke="#ff0000" stroke-width="1.35"/>
<circle cx="353.89" cy="645.40" r="4.9" fill="none" stroke="#ff0000" stroke-width="1.35"/>
<circle cx="353.89" cy="648.00" r="4.9" fill="none" stroke="#ff0000" stroke-width="1.35"/>
<circle cx="353.89" cy="650.60" r="4.9" fill="none" stroke="#ff0000" stroke-width="1.35"/>
<circle cx="366.44" cy="425.50" r="4.9" fill="none" stroke="#ff0000" stroke-width="1.35"/>
<circle cx="379.00" cy="488.80" r="4.9" fill="none" stroke="#ff0000" stroke-width="1.35"/>
<circle cx="429.22" cy="522.40" r="4.9" fill="none" stroke="#ff0000" stroke-width="1.35"/>
<circle cx="466.88" cy="499.10" r="4.9" fill="none" stroke="#ff0000" stroke-width="1.35"/>
<circle cx="466.88" cy="654.80" r="4.9" fill="none" stroke="#ff0000" stroke-width="1.35"/>
<circle cx="479.44" cy="640.90" r="4.9" fill="none" stroke="#ff0000" stroke-width="1.35"/>
<circle cx="479.44" cy="662.40" r="4.9" fill="none" stroke="#ff0000" stroke-width="1.35"/>
<circle cx="492.00" cy="635.80" r="4.9" fill="none" stroke="#ff0000" stroke-width="1.35"/>
<circle cx="492.00" cy="638.50" r="4.9" fill="none" stroke="#ff0000" stroke-width="1.35"/>
<circle cx="492.00" cy="640.90" r="4.9" fill="none" stroke="#ff0000" stroke-width="1.35"/>
<circle cx="492.00" cy="661.00" r="4.9" fill="none" stroke="#ff0000" stroke-width="1.35"/>
<circle cx="504.55" cy="644.60" r="4.9" fill="none" stroke="#ff0000" stroke-width="1.35"/>
<circle cx="529.66" cy="606.20" r="4.9" fill="none" stroke="#ff0000" stroke-width="1.35"/>
<circle cx="554.77" cy="642.60" r="4.9" fill="none" stroke="#ff0000" stroke-width="1.35"/>
<circle cx="554.77" cy="647.70" r="4.9" fill="none" stroke="#ff0000" stroke-width="1.35"/>
<circle cx="554.77" cy="650.70" r="4.9" fill="none" stroke="#ff0000" stroke-width="1.35"/>
<circle cx="567.33" cy="647.30" r="4.9" fill="none" stroke="#ff0000" stroke-width="1.35"/>
<circle cx="567.33" cy="660.00" r="4.9" fill="none" stroke="#ff0000" stroke-width="1.35"/>
<circle cx="579.88" cy="630.00" r="4.9" fill="none" stroke="#ff0000" stroke-width="1.35"/>
<circle cx="579.88" cy="632.00" r="4.9" fill="none" stroke="#ff0000" stroke-width="1.35"/>
<circle cx="579.88" cy="648.30" r="4.9" fill="none" stroke="#ff0000" stroke-width="1.35"/>
<circle cx="579.88" cy="651.00" r="4.9" fill="none" stroke="#ff0000" stroke-width="1.35"/>
<circle cx="579.88" cy="653.60" r="4.9" fill="none" stroke="#ff0000" stroke-width="1.35"/>
<circle cx="579.88" cy="658.80" r="4.9" fill="none" stroke="#ff0000" stroke-width="1.35"/>
<circle cx="579.88" cy="661.50" r="4.9" fill="none" stroke="#ff0000" stroke-width="1.35"/>
<circle cx="592.43" cy="634.50" r="4.9" fill="none" stroke="#ff0000" stroke-width="1.35"/>
<circle cx="592.43" cy="643.70" r="4.9" fill="none" stroke="#ff0000" stroke-width="1.35"/>
<circle cx="592.43" cy="659.50" r="4.9" fill="none" stroke="#ff0000" stroke-width="1.35"/>
<circle cx="604.99" cy="471.20" r="4.9" fill="none" stroke="#ff0000" stroke-width="1.35"/>
<circle cx="604.99" cy="622.70" r="4.9" fill="none" stroke="#ff0000" stroke-width="1.35"/>
<circle cx="604.99" cy="651.60" r="4.9" fill="none" stroke="#ff0000" stroke-width="1.35"/>
<circle cx="604.99" cy="664.70" r="4.9" fill="none" stroke="#ff0000" stroke-width="1.35"/>
<circle cx="617.54" cy="649.00" r="4.9" fill="none" stroke="#ff0000" stroke-width="1.35"/>
<circle cx="617.54" cy="654.90" r="4.9" fill="none" stroke="#ff0000" stroke-width="1.35"/>
<circle cx="617.54" cy="663.40" r="4.9" fill="none" stroke="#ff0000" stroke-width="1.35"/>
<circle cx="630.10" cy="660.80" r="4.9" fill="none" stroke="#ff0000" stroke-width="1.35"/>
<circle cx="630.10" cy="662.80" r="4.9" fill="none" stroke="#ff0000" stroke-width="1.35"/>
<line x1="127.90" y1="489.80" x2="630.10" y2="654.80" stroke="#ff0000" stroke-width="2.0" />
<line x1="127.90" y1="610.30" x2="630.10" y2="667.20" stroke="#0000ff" stroke-width="2.0" />
<line x1="77.60" y1="762.00" x2="77.60" y2="1003.30" stroke="#000" stroke-width="1.2" />
<line x1="71.20" y1="982.80" x2="77.60" y2="982.80" stroke="#000" stroke-width="1.2" />
<text x="63.00" y="988.90" font-size="17" text-anchor="end" font-weight="normal" >120</text>
<line x1="71.20" y1="932.67" x2="77.60" y2="932.67" stroke="#000" stroke-width="1.2" />
<text x="63.00" y="938.77" font-size="17" text-anchor="end" font-weight="normal" >130</text>
<line x1="71.20" y1="882.55" x2="77.60" y2="882.55" stroke="#000" stroke-width="1.2" />
<text x="63.00" y="888.65" font-size="17" text-anchor="end" font-weight="normal" >140</text>
<line x1="71.20" y1="832.42" x2="77.60" y2="832.42" stroke="#000" stroke-width="1.2" />
<text x="63.00" y="838.52" font-size="17" text-anchor="end" font-weight="normal" >150</text>
<line x1="71.20" y1="782.30" x2="77.60" y2="782.30" stroke="#000" stroke-width="1.2" />
<text x="63.00" y="788.40" font-size="17" text-anchor="end" font-weight="normal" >160</text>
<line x1="77.30" y1="1006.40" x2="681.40" y2="1006.40" stroke="#000" stroke-width="1.2" />
<text transform="translate(16.8,882.5) rotate(-90)" x="0" y="0" font-size="20" text-anchor="middle">Day of year harvested</text>
<text x="83.00" y="790.00" font-size="29" text-anchor="start" font-weight="bold" >c</text>
<line x1="164.00" y1="902.60" x2="164.00" y2="932.60" stroke="#000" stroke-width="1.3" />
<line x1="164.00" y1="957.80" x2="164.00" y2="967.90" stroke="#000" stroke-width="1.3" />
<line x1="151.40" y1="902.60" x2="176.60" y2="902.60" stroke="#000" stroke-width="1.3" />
<line x1="151.40" y1="967.90" x2="176.60" y2="967.90" stroke="#000" stroke-width="1.3" />
<rect x="120.50" y="932.60" width="87.00" height="25.20" fill="#ff0000" stroke="#000" stroke-width="1.2"/>
<line x1="120.50" y1="947.90" x2="207.50" y2="947.90" stroke="#000" stroke-width="1.5" />
<line x1="121.00" y1="942.30" x2="208.50" y2="942.30" stroke="#000" stroke-width="3.6" stroke-linecap="round" stroke-dasharray="11.2 8.1"/>
<circle cx="164.00" cy="792.10" r="5.6" fill="#000"/>
<circle cx="164.00" cy="847.00" r="5.6" fill="#000"/>
<circle cx="164.00" cy="862.20" r="5.6" fill="#000"/>
<circle cx="164.00" cy="881.20" r="5.6" fill="#000"/>
<circle cx="164.00" cy="885.50" r="5.6" fill="#000"/>
<circle cx="164.00" cy="888.50" r="5.6" fill="#000"/>
<circle cx="164.00" cy="897.20" r="5.6" fill="#000"/>
<circle cx="164.00" cy="974.50" r="5.6" fill="#000"/>
<circle cx="164.00" cy="977.50" r="5.6" fill="#000"/>
<circle cx="164.00" cy="980.50" r="5.6" fill="#000"/>
<circle cx="164.00" cy="982.80" r="5.6" fill="#000"/>
<text x="186.30" y="928.60" font-size="18" text-anchor="start" font-weight="normal" >A</text>
<line x1="307.30" y1="805.60" x2="307.30" y2="926.20" stroke="#000" stroke-width="1.3" />
<line x1="307.30" y1="962.90" x2="307.30" y2="978.20" stroke="#000" stroke-width="1.3" />
<line x1="294.70" y1="805.60" x2="319.90" y2="805.60" stroke="#000" stroke-width="1.3" />
<line x1="294.70" y1="978.20" x2="319.90" y2="978.20" stroke="#000" stroke-width="1.3" />
<rect x="263.90" y="926.20" width="86.80" height="36.70" fill="#0000ff" stroke="#000" stroke-width="1.2"/>
<line x1="263.90" y1="952.90" x2="350.70" y2="952.90" stroke="#000" stroke-width="1.5" />
<line x1="264.40" y1="931.10" x2="351.70" y2="931.10" stroke="#000" stroke-width="3.6" stroke-linecap="round" stroke-dasharray="11.2 8.1"/>
<circle cx="307.30" cy="781.60" r="5.6" fill="#000"/>
<circle cx="307.30" cy="790.00" r="5.6" fill="#000"/>
<circle cx="307.30" cy="793.00" r="5.6" fill="#000"/>
<circle cx="307.30" cy="796.00" r="5.6" fill="#000"/>
<circle cx="307.30" cy="799.00" r="5.6" fill="#000"/>
<circle cx="307.30" cy="802.20" r="5.6" fill="#000"/>
<circle cx="307.30" cy="982.90" r="5.6" fill="#000"/>
<text x="334.80" y="921.80" font-size="18" text-anchor="start" font-weight="normal" >A</text>
<line x1="451.00" y1="787.10" x2="451.00" y2="799.90" stroke="#000" stroke-width="1.3" />
<line x1="451.00" y1="892.70" x2="451.00" y2="917.50" stroke="#000" stroke-width="1.3" />
<line x1="438.40" y1="787.10" x2="463.60" y2="787.10" stroke="#000" stroke-width="1.3" />
<line x1="438.40" y1="917.50" x2="463.60" y2="917.50" stroke="#000" stroke-width="1.3" />
<rect x="407.70" y="799.90" width="86.60" height="92.80" fill="#ff0000" stroke="#000" stroke-width="1.2"/>
<line x1="407.70" y1="822.60" x2="494.30" y2="822.60" stroke="#000" stroke-width="1.5" />
<line x1="408.20" y1="841.60" x2="495.30" y2="841.60" stroke="#000" stroke-width="3.6" stroke-linecap="round" stroke-dasharray="11.2 8.1"/>
<circle cx="451.00" cy="781.70" r="5.6" fill="#000"/>
<circle cx="451.00" cy="922.00" r="5.6" fill="#000"/>
<circle cx="451.00" cy="925.30" r="5.6" fill="#000"/>
<circle cx="451.00" cy="928.60" r="5.6" fill="#000"/>
<circle cx="451.00" cy="943.00" r="5.6" fill="#000"/>
<text x="478.50" y="796.60" font-size="18" text-anchor="start" font-weight="normal" >B</text>
<line x1="594.50" y1="787.10" x2="594.50" y2="792.20" stroke="#000" stroke-width="1.3" />
<line x1="594.50" y1="832.10" x2="594.50" y2="882.00" stroke="#000" stroke-width="1.3" />
<line x1="581.90" y1="787.10" x2="607.10" y2="787.10" stroke="#000" stroke-width="1.3" />
<line x1="581.90" y1="882.00" x2="607.10" y2="882.00" stroke="#000" stroke-width="1.3" />
<rect x="551.25" y="792.20" width="86.50" height="39.90" fill="#0000ff" stroke="#000" stroke-width="1.2"/>
<line x1="551.25" y1="797.30" x2="637.75" y2="797.30" stroke="#000" stroke-width="1.5" />
<line x1="551.75" y1="813.20" x2="638.75" y2="813.20" stroke="#000" stroke-width="3.6" stroke-linecap="round" stroke-dasharray="11.2 8.1"/>
<circle cx="594.50" cy="782.20" r="5.6" fill="#000"/>
<circle cx="594.50" cy="887.60" r="5.6" fill="#000"/>
<circle cx="594.50" cy="890.90" r="5.6" fill="#000"/>
<circle cx="594.50" cy="894.20" r="5.6" fill="#000"/>
<circle cx="594.50" cy="897.50" r="5.6" fill="#000"/>
<text x="623.00" y="789.50" font-size="18" text-anchor="start" font-weight="normal" >C</text>
<line x1="163.40" y1="1006.40" x2="163.40" y2="1012.50" stroke="#000" stroke-width="1.2" />
<line x1="307.60" y1="1006.40" x2="307.60" y2="1012.50" stroke="#000" stroke-width="1.2" />
<line x1="451.20" y1="1006.40" x2="451.20" y2="1012.50" stroke="#000" stroke-width="1.2" />
<line x1="595.10" y1="1006.40" x2="595.10" y2="1012.50" stroke="#000" stroke-width="1.2" />
<text x="163.40" y="1035.20" font-size="17" text-anchor="middle" font-weight="normal" >Female</text>
<text x="307.60" y="1035.20" font-size="17" text-anchor="middle" font-weight="normal" >Male</text>
<text x="451.20" y="1035.20" font-size="17" text-anchor="middle" font-weight="normal" >Female</text>
<text x="595.10" y="1035.20" font-size="17" text-anchor="middle" font-weight="normal" >Male</text>
<text x="231.00" y="1073.00" font-size="20" text-anchor="middle" font-weight="normal" >Pre-spawn</text>
<text x="520.00" y="1073.00" font-size="20.4" text-anchor="middle" font-weight="normal" >Post-spawn</text>
</svg>
</body></html>
